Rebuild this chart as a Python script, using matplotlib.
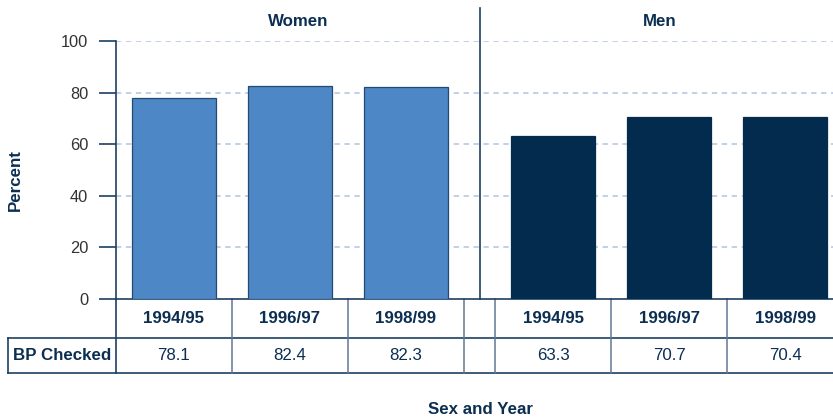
import matplotlib.pyplot as plt
import matplotlib.transforms as mtransforms

plt.rcParams['font.family'] = ['Liberation Sans', 'DejaVu Sans']

# data
years = ['1994/95', '1996/97', '1998/99']
women = [78.1, 82.4, 82.3]
men = [63.3, 70.7, 70.4]
row_label = 'BP Checked'

navy = '#0b2e51'
women_color = '#4d87c6'
men_color = '#032b4e'
grid_color = '#aec3e3'
line_color = '#1d3f62'
fs = 12.2

fig = plt.figure(figsize=(8.33, 4.18), dpi=100)
W, H = 833, 418
ax = fig.add_axes([116 / W, (H - 299) / H, (843 - 116) / W, (299 - 41) / H])

gap = 31 / 116
women_x = [0.5, 1.5, 2.5]
men_x = [3 + gap + 0.5, 3 + gap + 1.5, 3 + gap + 2.5]
bar_w = 84 / 116

ax.bar(women_x, women, width=bar_w, color=women_color, edgecolor='#234a72', linewidth=0.9, zorder=3)
ax.bar(men_x, men, width=bar_w, color=men_color, edgecolor=men_color, linewidth=0.9, zorder=3)

ax.set_xlim(0, 6 + gap)
ax.set_ylim(0, 100)
ax.set_yticks([0, 20, 40, 60, 80, 100])
ax.tick_params(axis='y', length=12, width=1.2, color=line_color, labelsize=11.8,
               labelcolor='#333333', pad=8)
ax.set_xticks([])
for y in [20, 40, 60, 80, 100]:
    ax.axhline(y, color=grid_color, linestyle=(0, (3.5, 3)), linewidth=1.1, zorder=1)

for s in ['top', 'right']:
    ax.spines[s].set_visible(False)
ax.spines['left'].set_color(line_color)
ax.spines['bottom'].set_color(line_color)
ax.spines['left'].set_linewidth(1.2)
ax.spines['bottom'].set_linewidth(1.2)

trans = mtransforms.blended_transform_factory(ax.transData, ax.transAxes)

# divider between women and men
div_x = 3 + gap / 2
ax.plot([div_x, div_x], [0, (299 - 8) / 258], transform=trans, color=line_color,
        linewidth=1.2, clip_on=False)

# panel titles
ax.text(div_x / 2, (299 - 21) / 258, 'Women', transform=trans, ha='center', va='center',
        fontsize=fs, fontweight='bold', color=navy)
ax.text(div_x + (6 + gap - div_x) / 2 - 0.01, (299 - 21) / 258, 'Men', transform=trans,
        ha='center', va='center', fontsize=fs, fontweight='bold', color=navy)

# table
r1 = -39 / 258
r2 = -74 / 258
left_edge = (8 - 116) / 116
right_edge = 6 + gap + 0.2
ax.plot([left_edge, right_edge], [r1, r1], transform=trans, color=line_color, lw=1.2, clip_on=False)
ax.plot([left_edge, right_edge], [r2, r2], transform=trans, color=line_color, lw=1.2, clip_on=False)
ax.plot([left_edge, left_edge], [r1, r2], transform=trans, color=line_color, lw=1.2, clip_on=False)
ax.plot([0, 0], [0, r2], transform=trans, color=line_color, lw=1.2, clip_on=False)
for xe in [1, 2, 3, 3 + gap, 4 + gap, 5 + gap]:
    ax.plot([xe, xe], [0, r2], transform=trans, color='#5f7893', lw=1.1, clip_on=False)

for x, yr, v in zip(women_x + men_x, years + years, women + men):
    ax.text(x, r1 / 2, yr, transform=trans, ha='center', va='center', fontsize=fs,
            fontweight='bold', color=navy)
    ax.text(x, (r1 + r2) / 2, f'{v:.1f}', transform=trans, ha='center', va='center',
            fontsize=fs, color=navy)
ax.text(left_edge / 2, (r1 + r2) / 2, row_label, transform=trans, ha='center', va='center',
        fontsize=fs, fontweight='bold', color=navy)

fig.text(15 / W, 1 - 180 / H, 'Percent', rotation=90, ha='center', va='center',
         fontsize=fs, fontweight='bold', color=navy)
fig.text(481 / W, 1 - 409 / H, 'Sex and Year', ha='center', va='center',
         fontsize=fs, fontweight='bold', color=navy)

fig.savefig('out.png', dpi=100)
